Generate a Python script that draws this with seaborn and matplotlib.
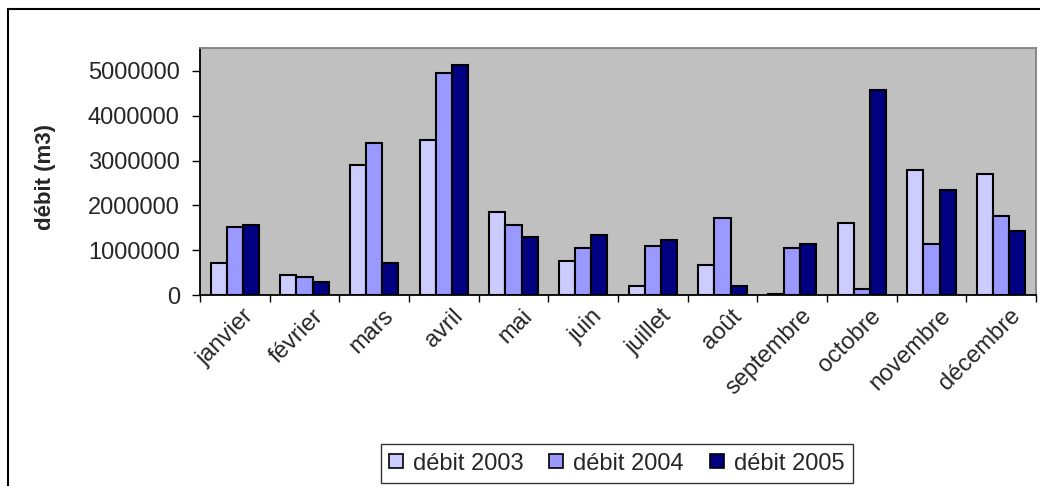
import numpy as np
import pandas as pd
import matplotlib
matplotlib.use("Agg")
import matplotlib.pyplot as plt
from matplotlib.lines import Line2D
from matplotlib.transforms import ScaledTranslation
import seaborn as sns

# Monthly discharge (m3) per year
mois = ["janvier", "février", "mars", "avril", "mai", "juin", "juillet",
        "août", "septembre", "octobre", "novembre", "décembre"]
debit_2003 = [710000, 460000, 2900000, 3450000, 1850000, 760000, 210000,
              675000, 40000, 1600000, 2780000, 2700000]
debit_2004 = [1510000, 410000, 3400000, 4960000, 1560000, 1060000, 1090000,
              1730000, 1060000, 130000, 1140000, 1770000]
debit_2005 = [1560000, 295000, 720000, 5130000, 1305000, 1350000, 1225000,
              215000, 1140000, 4580000, 2355000, 1430000]
series = ["débit 2003", "débit 2004", "débit 2005"]
yticks = [0, 1000000, 2000000, 3000000, 4000000, 5000000]

df = pd.DataFrame({
    "mois": mois * 3,
    "serie": [series[0]] * 12 + [series[1]] * 12 + [series[2]] * 12,
    "debit": debit_2003 + debit_2004 + debit_2005,
})

sns.set_style("white")
plt.rcParams["font.family"] = ["Liberation Sans", "DejaVu Sans"]
FS = 17

palette = ["#CCCCFF", "#9999FF", "#000080"]

fig = plt.figure(figsize=(10.4, 4.86), dpi=100)
ax = fig.add_axes([200 / 1040, 1 - 295.3 / 486, 836 / 1040, 247 / 486])
ax.set_facecolor("#C0C0C0")

sns.barplot(data=df, x="mois", y="debit", hue="serie", order=mois,
            hue_order=series, palette=palette, width=0.69,
            edgecolor="black", linewidth=1.5, saturation=1,
            errorbar=None, ax=ax)

ax.set_xlim(-0.5, len(mois) - 0.5)
ax.set_ylim(0, 5500000)
ax.set_yticks(yticks)
ax.set_yticklabels([str(v) for v in yticks], fontsize=FS)
ax.tick_params(axis="y", direction="out", length=6, width=1, pad=8.5,
               left=True, color="black")

# month ticks sit on category boundaries, labels at category centres
ax.set_xticks(np.arange(len(mois)))
ax.set_xticklabels(mois, rotation=45, ha="right", rotation_mode="anchor",
                   fontsize=FS)
ax.tick_params(axis="x", length=0, pad=7)
shift = ScaledTranslation(8 / 100, 0, fig.dpi_scale_trans)
for lab in ax.get_xticklabels():
    lab.set_transform(lab.get_transform() + shift)
ax.set_xticks(np.arange(len(mois) + 1) - 0.5, minor=True)
ax.tick_params(axis="x", which="minor", direction="out", length=5, width=1,
               bottom=True, color="black")

ax.set_xlabel("")
ax.set_ylabel("débit (m3)", fontsize=16, fontweight="bold")
ax.yaxis.set_label_coords(-0.172, 0.48)

for side in ["left", "bottom"]:
    ax.spines[side].set_color("black")
    ax.spines[side].set_linewidth(1.3)
for side in ["top", "right"]:
    ax.spines[side].set_color("#808080")
    ax.spines[side].set_linewidth(1.3)

ax.legend_.remove()
handles = [Line2D([0], [0], marker="s", linestyle="none", markersize=9.5,
                  markerfacecolor=c, markeredgecolor="black",
                  markeredgewidth=1.2) for c in palette]
leg = fig.legend(handles, series, loc="center", ncol=3,
                 bbox_to_anchor=(617 / 1040, 1 - 463.5 / 486),
                 bbox_transform=fig.transFigure, fontsize=FS,
                 frameon=True, fancybox=False, edgecolor="black",
                 handlelength=0.55, handletextpad=0.45, columnspacing=1.1,
                 borderpad=0.38, borderaxespad=0)
leg.get_frame().set_linewidth(1.0)

# chart-area frame (left and top edges)
fig.add_artist(Line2D([8 / 1040, 8 / 1040], [0, 1 - 9 / 486],
                      color="black", linewidth=1.5, transform=fig.transFigure))
fig.add_artist(Line2D([8 / 1040, 1], [1 - 9 / 486, 1 - 9 / 486],
                      color="black", linewidth=1.5, transform=fig.transFigure))

fig.savefig("out.png", dpi=100)
